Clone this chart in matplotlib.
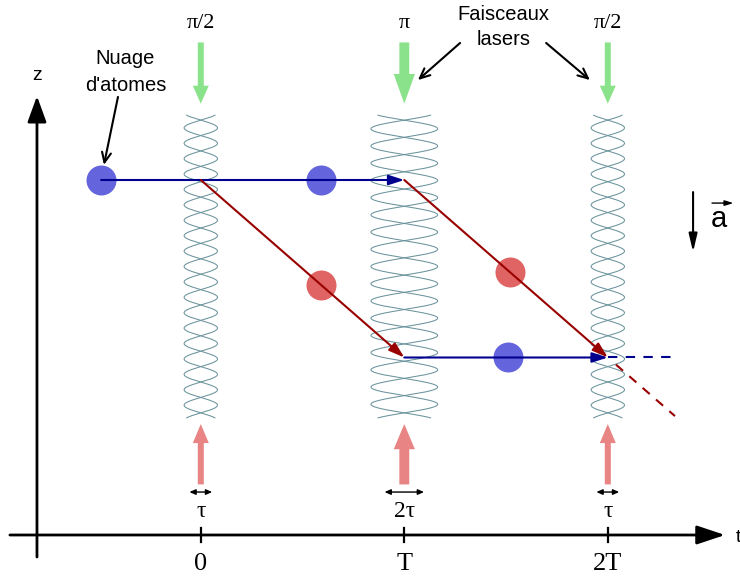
import matplotlib
matplotlib.use("Agg")
import matplotlib.pyplot as plt
import numpy as np
from matplotlib.patches import FancyArrowPatch, ArrowStyle

# ---------------- data ----------------
pulse_times = [0, 1, 2]                 # pulse instants, in units of T
pulse_names = ["π/2", "π", "π/2"]
pulse_durations = [1, 2, 1]             # in units of tau
duration_labels = ["τ", "2τ", "τ"]
time_tick_labels = ["0", "T", "2T"]
fringe_half_periods = [19, 17, 19]      # crossings pattern of the standing waves

# trajectories (t in units of T, z arbitrary units)
blue_paths_t = [[-0.49, 1.0], [1.0, 2.0]]
blue_paths_z = [[2.0, 2.0], [1.0, 1.0]]
red_paths_t = [[0.0, 1.0], [1.0, 2.0]]
red_paths_z = [[2.0, 1.0], [2.0, 1.0]]
blue_exit_t = [2.0, 2.32]
blue_exit_z = [1.0, 1.0]
red_exit_t = [2.04, 2.33]
red_exit_z = [0.96, 0.67]

# atom clouds
blue_atoms_t = [-0.49, 0.59, 1.51]
blue_atoms_z = [2.0, 2.0, 1.0]
red_atoms_t = [0.59, 1.52]
red_atoms_z = [1.41, 1.48]

# ---------------- style / layout ----------------
SERIF = ["Liberation Serif", "DejaVu Serif"]
SANS = ["Liberation Sans", "DejaVu Sans"]
C_BLUE_LINE = "#00008f"
C_RED_LINE = "#990000"
C_BLUE_ATOM = "#6464dc"
C_RED_ATOM = "#e06464"
C_GREEN = "#8ae38a"
C_PINK = "#e88484"
C_WAVE = "#6a939c"
PT = 72 / 100.0  # px -> pt

fig = plt.figure(figsize=(7.4, 5.79), dpi=100)
ax = fig.add_axes([0, 0, 1, 1])
ax.set_xlim(-0.9867, 2.6496)
ax.set_ylim(-0.2479, 3.0141)
ax.axis("off")


def arrow(p0, p1, style, color, lw, z=3, **kw):
    a = FancyArrowPatch(p0, p1, arrowstyle=style, mutation_scale=1,
                        color=color, lw=lw, shrinkA=0, shrinkB=0, zorder=z, **kw)
    ax.add_patch(a)
    return a


# ---- axes of the diagram ----
t_zaxis = -0.805
arrow((t_zaxis, -0.124), (t_zaxis, 2.473),
      ArrowStyle("-|>", head_length=22 * PT, head_width=8 * PT), "black", 2.0)
arrow((-0.938, 0.0), (2.576, 0.0),
      ArrowStyle("-|>", head_length=24 * PT, head_width=8 * PT), "black", 2.0)
ax.text(t_zaxis, 2.563, "z", family=SANS, fontsize=14, ha="center", va="baseline")
ax.text(2.64, -0.04, "t", family=SANS, fontsize=14, ha="center", va="baseline")
for t, lab in zip(pulse_times, time_tick_labels):
    ax.plot([t, t], [-0.039, 0.039], color="black", lw=1.6, zorder=3)
    ax.text(t, -0.197, lab, family=SERIF, fontsize=19, ha="center", va="baseline")

# ---- laser pulses ----
z_cross_top, z_cross_bot = 2.337, 0.688
ext = 0.028
for t, d, n, name, dlab in zip(pulse_times, pulse_durations, fringe_half_periods,
                               pulse_names, duration_labels):
    hw = 0.082 * d
    hp = (z_cross_top - z_cross_bot) / n
    zz = np.linspace(z_cross_bot - ext, z_cross_top + ext, 1200)
    s = np.sin(np.pi * (zz - z_cross_bot) / hp)
    ax.plot(t + hw * s, zz, color=C_WAVE, lw=0.75, zorder=1)
    ax.plot(t - hw * s, zz, color=C_WAVE, lw=0.75, zorder=1)

    k = 1.0 if d == 1 else 1.65
    # green arrow from the top
    arrow((t, 2.775), (t, 2.43),
          ArrowStyle("Simple", head_length=18 * PT * k, head_width=16 * PT * (1 + 0.5 * (k - 1)),
                     tail_width=6 * PT * k), C_GREEN, 0, z=2)
    # red arrow from the bottom
    arrow((t, 0.285), (t, 0.625),
          ArrowStyle("Simple", head_length=19 * PT * (1 + 0.5 * (k - 1)), head_width=16 * PT * (1 + 0.5 * (k - 1)),
                     tail_width=6 * PT * k), C_PINK, 0, z=2)
    # duration marker
    hl = 0.056 if d == 1 else 0.097
    arrow((t - hl, 0.242), (t + hl, 0.242),
          ArrowStyle("<|-|>", head_length=5 * PT, head_width=2.2 * PT), "black", 1.0)
    ax.text(t, 0.101, dlab, family=SERIF, fontsize=17, ha="center", va="baseline")
    ax.text(t, 2.858, name, family=SERIF, fontsize=16, ha="center", va="baseline")

# ---- atoms ----
ax.scatter(blue_atoms_t, blue_atoms_z, s=(30 * PT) ** 2, color=C_BLUE_ATOM,
           linewidths=0, zorder=4)
ax.scatter(red_atoms_t, red_atoms_z, s=(30 * PT) ** 2, color=C_RED_ATOM,
           linewidths=0, zorder=4)

# ---- trajectories ----
traj_style = ArrowStyle("-|>", head_length=13 * PT, head_width=4.2 * PT)
for ts, zs in zip(blue_paths_t, blue_paths_z):
    arrow((ts[0], zs[0]), (ts[1], zs[1]), traj_style, C_BLUE_LINE, 1.5, z=5)
for ts, zs in zip(red_paths_t, red_paths_z):
    arrow((ts[0], zs[0]), (ts[1], zs[1]), traj_style, C_RED_LINE, 1.5, z=5)
ax.plot(blue_exit_t, blue_exit_z, color=C_BLUE_LINE, lw=1.5, dashes=(4.5, 4), zorder=5)
ax.plot(red_exit_t, red_exit_z, color=C_RED_LINE, lw=1.5, dashes=(4.5, 4), zorder=5)

# ---- annotations ----
ax.text(-0.37, 2.654, "Nuage", family=SANS, fontsize=14.5, ha="center", va="baseline")
ax.text(-0.37, 2.503, "d'atomes", family=SANS, fontsize=14.5, ha="center", va="baseline")
ann_style = ArrowStyle("->", head_length=10 * PT, head_width=4.5 * PT)
arrow((-0.407, 2.468), (-0.476, 2.085), ann_style, "black", 1.5)

ax.text(1.487, 2.901, "Faisceaux", family=SANS, fontsize=14.5, ha="center", va="baseline")
ax.text(1.487, 2.760, "lasers", family=SANS, fontsize=14.5, ha="center", va="baseline")
arrow((1.274, 2.772), (1.067, 2.563), ann_style, "black", 1.5)
arrow((1.697, 2.772), (1.912, 2.563), ann_style, "black", 1.5)

# acceleration vector
arrow((2.419, 1.932), (2.419, 1.594),
      ArrowStyle("-|>", head_length=15 * PT, head_width=3.5 * PT), "black", 1.5)
ax.text(2.547, 1.737, "a", family=SANS, fontsize=21, ha="center", va="baseline")
arrow((2.512, 1.870), (2.617, 1.870),
      ArrowStyle("-|>", head_length=7 * PT, head_width=2.2 * PT), "black", 1.0)

fig.savefig("out.png", dpi=100)
